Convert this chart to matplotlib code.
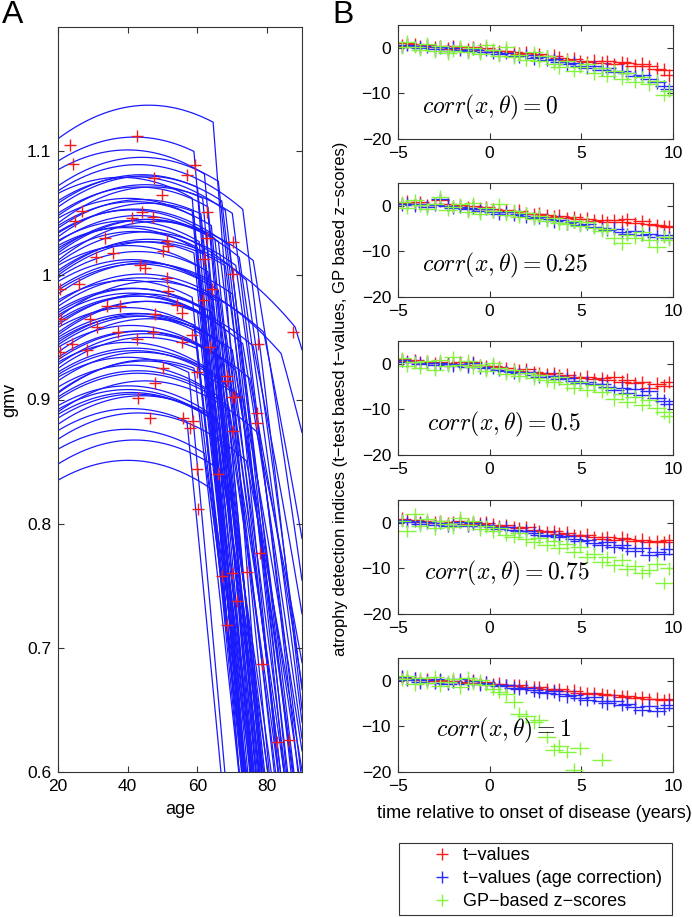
#!/usr/bin/env python
import numpy as np
import matplotlib
matplotlib.use('agg')
import matplotlib.pyplot as plt
from matplotlib.lines import Line2D
from matplotlib.patches import Rectangle

# Panel A: simulated gmv trajectories (one entry per subject)
# value at age 20, age of peak, age of disease onset, decline per year after onset
curve_v20 = [1.110, 1.092, 1.085, 1.072, 1.066, 1.060, 1.055, 1.050, 1.046, 1.042,
             1.038, 1.035, 1.031, 1.027, 1.024, 1.020, 1.016, 1.012, 1.008, 1.004,
             1.000, 0.995, 0.990, 0.985, 0.980, 0.975, 0.970, 0.966, 0.962, 0.958,
             0.954, 0.950, 0.946, 0.942, 0.938, 0.934, 0.930, 0.925, 0.920, 0.915,
             0.910, 0.905, 0.900, 0.895, 0.890, 0.885, 0.880, 0.875, 0.868, 0.860,
             0.848, 0.835, 1.048, 1.040, 1.028, 1.018, 0.998, 0.972, 0.960, 0.948,
             0.932, 0.918, 0.902, 0.888, 0.978, 1.002, 0.964, 0.928,
             1.058, 1.034, 1.010, 0.988, 0.968, 0.944, 0.922, 0.906, 0.892, 1.068,
             1.022, 0.952]
curve_peak = [46, 42, 40, 44, 38, 42, 45, 43, 40, 47,
              44, 41, 46, 43, 39, 45, 42, 48, 40, 44,
              46, 41, 43, 45, 40, 44, 42, 47, 43, 40,
              45, 42, 44, 41, 46, 43, 40, 45, 42, 44,
              41, 46, 43, 40, 45, 42, 44, 41, 43, 40,
              42, 40, 45, 42, 40, 46, 43, 41, 45, 42,
              44, 40, 43, 41, 44, 46, 42, 45,
              44, 42, 45, 43, 41, 44, 42, 45, 40, 43,
              41, 46]
curve_onset = [64.5, 59, 62, 66, 58.5, 68, 60, 63, 59, 70,
               61, 65, 58.5, 72, 62, 66, 60, 76, 63, 59,
               68, 61, 64, 70, 58.5, 66, 62, 79, 60, 65,
               63, 68, 59, 71, 61, 67, 64, 60, 73, 62,
               66, 59, 69, 63, 77, 61, 65, 57, 74, 62,
               67, 64, 61.5, 64, 60.5, 62.5, 60, 61, 64, 62,
               65, 57.5, 62, 64, 84, 88, 73, 75,
               67, 69, 71, 66, 68, 70, 67, 72, 66, 73,
               74, 76]
curve_slope = [0.036, 0.033, 0.031, 0.026, 0.033, 0.024, 0.029, 0.028, 0.030, 0.022,
               0.028, 0.026, 0.030, 0.019, 0.027, 0.023, 0.029, 0.017, 0.026, 0.028,
               0.021, 0.026, 0.025, 0.020, 0.027, 0.022, 0.026, 0.014, 0.026, 0.023,
               0.025, 0.020, 0.025, 0.018, 0.024, 0.020, 0.022, 0.025, 0.015, 0.023,
               0.020, 0.024, 0.017, 0.021, 0.013, 0.023, 0.019, 0.028, 0.014, 0.020,
               0.017, 0.019, 0.031, 0.030, 0.032, 0.028, 0.030, 0.029, 0.026, 0.027,
               0.024, 0.030, 0.025, 0.022, 0.010, 0.009, 0.017, 0.015,
               0.024, 0.022, 0.020, 0.020, 0.019, 0.018, 0.018, 0.016, 0.017, 0.022,
               0.019, 0.014]
curvature = 4e-5   # healthy ageing parabola
accel = 1e-4       # extra acceleration after onset

# observed (age, gmv)
obs_age = [23.4, 24.4, 42.6, 47.5, 49.9, 56.9, 59.3, 26.9, 24.9, 41.1,
           44.0, 47.3, 62.7, 70.3, 62.7, 33.5, 51.3, 51.6, 50.1, 30.9,
           35.8, 43.5, 45.0, 61.9, 70.2, 51.3, 20.6, 25.9, 51.6, 64.2,
           34.0, 37.8, 21.0, 29.2, 31.1, 47.8, 55.5, 54.1, 61.6, 37.3,
           42.6, 47.3, 24.0, 20.6, 28.3, 55.5, 58.4, 63.6, 77.4, 87.5,
           50.1, 59.8, 68.5, 68.5, 47.8, 43.0, 70.0, 70.8, 46.4, 55.9,
           58.8, 57.9, 70.2, 77.0, 77.0, 59.8, 65.9, 60.2, 78.0, 67.0,
           69.9, 74.2, 71.3, 68.5, 78.4, 82.7, 86.3]
obs_gmv = [1.105, 1.090, 1.112, 1.078, 1.065, 1.081, 1.089, 1.052, 1.044, 1.046,
           1.051, 1.047, 1.051, 1.027, 1.030, 1.030, 1.028, 1.024, 1.020, 1.015,
           1.018, 1.008, 1.006, 1.013, 1.001, 0.998, 0.989, 0.993, 0.987, 0.989,
           0.975, 0.975, 0.965, 0.965, 0.958, 0.969, 0.970, 0.976, 0.980, 0.954,
           0.949, 0.954, 0.945, 0.938, 0.940, 0.946, 0.952, 0.942, 0.945, 0.954,
           0.925, 0.922, 0.919, 0.915, 0.913, 0.901, 0.902, 0.902, 0.885, 0.885,
           0.883, 0.877, 0.875, 0.889, 0.881, 0.844, 0.840, 0.812, 0.776, 0.758,
           0.760, 0.761, 0.738, 0.718, 0.687, 0.624, 0.626]

# Panel B: atrophy indices vs time relative to onset (same subjects in all panels)
t_rel = [-4.8, -4.5, -4.1, -3.8, -3.4, -3.0, -2.7, -2.3, -2.0, -1.6, -1.2, -0.9, -0.5, -0.2,
         0.2, 0.5, 0.9, 1.3, 1.6, 2.0, 2.4, 2.7, 3.1, 3.5, 3.8, 4.2, 4.6, 4.9, 5.3, 5.7,
         6.1, 6.4, 6.8, 7.2, 7.5, 7.9, 8.3, 8.7, 9.1, 9.5, 9.8]
corr_labels = ['0', '0.25', '0.5', '0.75', '1']
nan = np.nan

tval_0 = [0.5, 1.0, 0.8, 0.3, 0.6, 0.2, 0.4, -0.2, 0.3, 0.1, -0.3, 0.2, -0.4, 0.0, -0.5, -0.8, -0.6, -1.0, -1.3, -1.1, -1.6,
          -1.4, -1.9, -1.7, -2.2, -2.6, -2.4, -2.9, -3.1, -2.8, -3.3, -3.0, -3.6, -3.2, -3.4, -3.9, -3.5, -4.1, -4.6, -4.8, -6.0]
tage_0 = [0.2, 0.6, 0.4, 0.0, 0.3, -0.3, 0.1, -0.6, 0.0, -0.4, -0.8, -0.2, -0.9, -0.5, -1.0, -1.4, -1.1, -1.7, -1.9, -1.6, -2.3,
          -2.0, -2.7, -2.5, -3.1, -3.6, -3.3, -4.0, -4.4, -4.1, -4.8, -4.5, -5.3, -5.0, -5.6, -6.2, -5.9, -6.8, -7.6, -8.4, -9.1]
zgp_0 = [0.1, 1.3, 0.2, -0.5, 0.9, -0.8, 0.4, -1.2, -0.6, 0.3, -1.0, -0.1, -1.3, 0.6, -0.4, -1.8, 0.2, -2.1, -1.5, -2.6, -1.0,
         -2.9, -1.9, -3.5, -4.3, -2.8, -5.1, -4.2, -3.6, -5.6, -4.5, -6.2, -5.0, -6.8, -5.6, -7.4, -6.4, -8.0, -7.2, -10.3, -9.4]

tval_25 = [0.6, 0.9, 0.4, 0.8, 0.2, 0.5, 1.2, 0.3, -0.1, 0.2, -0.4, 0.0, -0.6, -0.3, -0.8, -1.1, -0.9, -1.3, -1.1, -1.6, -1.9,
           -1.7, -2.1, -2.4, -2.2, -2.7, -2.5, -3.0, -2.8, -3.3, -3.1, -3.6, -3.2, -3.5, -3.0, -3.8, -3.4, -4.0, -4.2, -4.5, -4.6]
tage_25 = [0.3, 0.5, 0.1, 0.4, -0.2, 0.2, 1.5, 0.0, -0.5, -0.2, -0.8, -0.4, -1.1, -0.7, -1.3, -1.7, -1.4, -2.0, -1.8, -2.3, -2.7,
           -2.5, -3.0, -3.4, -3.1, -3.8, -3.5, -4.2, -4.0, -4.6, -4.9, -5.3, -5.0, -5.8, -6.2, -5.6, -6.4, -6.1, -6.8, -6.5, -7.0]
zgp_25 = [0.8, -0.4, 1.2, 0.1, -0.7, 0.5, 2.0, -0.9, -0.2, 0.4, -1.3, 0.6, -1.8, -0.5, -1.2, 0.3, -2.0, -1.1, -2.4, -1.6, -2.9,
          -2.2, -3.3, -2.7, -3.8, -4.0, -3.4, -4.4, -3.6, -4.8, -5.5, -5.0, -7.1, -8.2, -6.4, -7.0, -5.8, -7.6, -9.0, -6.8, -7.4]

tval_50 = [1.0, 0.6, 0.8, 0.3, 0.5, 0.1, 0.4, 0.2, 0.0, 0.3, -0.2, 0.4, -0.3, -0.6, -0.4, -0.8, -1.0, -1.3, -1.5, -1.2, -1.8,
           -2.0, -2.3, -2.1, -2.6, -2.4, -2.9, -3.1, -2.8, -3.4, -3.2, -3.6, -3.0, -3.9, -3.5, -4.2, -4.0, -5.2, -4.4, -4.8, -4.0]
tage_50 = [0.8, 0.4, 0.5, 0.0, 0.2, -0.3, 0.1, -0.1, -0.4, 0.0, -0.6, 0.1, -0.8, -1.0, -0.9, -1.3, -1.6, -1.9, -2.1, -1.8, -2.5,
           -2.8, -3.0, -2.7, -3.3, -3.1, -3.7, -4.2, -3.9, -4.5, -4.4, -5.0, -5.8, -5.2, -6.3, -5.6, -6.8, -6.0, -7.5, -8.1, -8.8]
zgp_50 = [1.2, -0.5, 0.3, -0.9, 0.6, -1.3, 0.8, -0.4, 1.5, -0.2, 0.7, -0.8, -0.3, -1.6, 0.2, -1.0, -2.2, -1.4, -2.7, -2.0, -3.2,
          -2.5, -3.6, -4.1, -3.0, -4.5, -5.3, -4.0, -5.8, -4.7, -6.2, -5.4, -7.8, -6.6, -8.4, -7.2, -9.0, -8.0, -9.8, -10.6, -11.5]

tval_75 = [0.9, 0.5, 0.7, 0.2, 0.4, 0.0, 0.3, -0.2, 0.1, 0.5, -0.3, 0.2, -0.2, 0.0, -0.4, -0.7, -0.5, -0.9, -1.2, -1.0, -1.5,
           -1.8, -2.1, -1.9, -2.4, -2.2, -2.7, -3.0, -2.6, -3.2, -3.5, -3.1, -3.8, -3.3, -3.6, -4.0, -3.7, -4.3, -4.0, -4.2, -3.8]
tage_75 = [0.6, 0.2, 0.4, -0.2, 0.1, -0.5, 0.0, -0.6, -0.3, 0.2, -0.7, -0.1, -0.6, -0.4, -0.9, -1.3, -1.0, -1.6, -1.9, -1.7, -2.2,
           -2.6, -2.9, -2.7, -3.2, -3.0, -3.6, -4.1, -3.8, -4.5, -4.9, -4.3, -5.3, -4.8, -5.6, -6.2, -5.5, -7.0, -6.4, -6.8, -5.7]
zgp_75 = [0.5, -1.8, 1.9, -0.6, 0.8, -1.2, 0.3, -0.3, -1.0, 1.1, -0.5, 0.4, -1.4, -0.8, -1.9, -1.2, -2.6, -3.1, -2.2, -3.6, -4.3,
          -3.3, -4.8, -3.9, -5.5, -4.6, -6.3, -5.2, -7.4, -6.8, -8.6, -7.6, -9.3, -8.1, -10.2, -9.5, -11.0, -10.4, -9.0, -13.2, -10.0]

tval_100 = [0.8, 0.4, 0.6, 0.1, 0.3, -0.1, 0.2, -0.3, 0.0, -0.2, -0.4, 0.1, -0.5, -0.3, -0.7, -0.6, -0.9, -1.1, -1.0, -1.3, -1.5,
            -1.4, -1.8, -2.0, -1.9, -2.3, -2.2, -2.6, -2.8, -2.7, -3.0, -3.2, -3.1, -3.5, -3.4, -3.8, -3.6, -4.1, -3.9, -4.3, -4.0]
tage_100 = [0.9, 0.2, 0.5, -0.3, 0.1, -0.5, 0.3, -0.6, -0.2, 0.4, -0.7, -0.1, -0.8, -0.4, -0.9, -1.2, -1.0, -1.5, -1.8, -1.6, -2.1,
            -2.4, -2.7, -2.3, -3.0, -3.4, -3.1, -3.8, -4.2, -3.6, -4.5, -4.9, -4.4, -5.3, -5.0, -5.8, -6.3, -5.5, -6.6, -6.0, -5.2]
zgp_100 = [0.3, 1.0, -0.8, 0.6, -0.4, 0.9, -1.1, -0.2, 0.5, -1.4, 0.7, -0.6, 0.2, -0.9, -1.7, -2.4, -3.0, -4.6, -7.2, -7.8, -9.1,
           -8.6, -12.3, -15.1, -14.2, -15.6, -19.5, -14.8, nan, nan, -17.3, nan, nan, nan, nan, nan, nan, nan, nan, nan, nan]

tval_all = [tval_0, tval_25, tval_50, tval_75, tval_100]
tage_all = [tage_0, tage_25, tage_50, tage_75, tage_100]
zgp_all = [zgp_0, zgp_25, zgp_50, zgp_75, zgp_100]

# text positions of the corr annotations (data coords)
label_pos = [(-3.7, -13), (-3.7, -13), (-3.4, -13.4), (-3.6, -11), (-2.9, -10.8)]

plt.rcParams['font.family'] = ['Liberation Sans', 'DejaVu Sans']
plt.rcParams['mathtext.fontset'] = 'cm'
plt.rcParams['axes.edgecolor'] = '#333333'

c_red = '#ff1a1a'
c_blue = '#2a2aff'
c_green = '#84f53c'

W, H = 692., 917.
fig = plt.figure(figsize=(W / 100, H / 100), dpi=100)

def px_axes(left, top, right, bottom):
    return fig.add_axes([left / W, 1 - bottom / H, (right - left) / W, (bottom - top) / H])

def style_ticks(ax):
    ax.tick_params(direction='in', top=True, right=True, length=4, width=0.8,
                   labelsize=12.5, color='#333333', pad=5)

# ---- Panel A ----
axA = px_axes(58, 27, 302, 772)
t = np.linspace(20, 90, 701)
for v20, m, o, s in zip(curve_v20, curve_peak, curve_onset, curve_slope):
    peak_val = v20 + curvature * (m - 20) ** 2
    healthy = peak_val - curvature * (t - m) ** 2
    at_onset = peak_val - curvature * (o - m) ** 2
    g = np.where(t < o, healthy, at_onset - s * (t - o) - accel * (t - o) ** 2)
    axA.plot(t, g, color='#1a1aff', lw=0.9, zorder=1)
axA.plot(obs_age, obs_gmv, '+', color='#ee1c1c', ms=9, mew=1.0, zorder=3)
axA.set_xlim(20, 90)
axA.set_ylim(0.6, 1.2)
axA.set_xticks([20, 40, 60, 80])
axA.set_yticks([0.6, 0.7, 0.8, 0.9, 1.0, 1.1])
axA.set_yticklabels(['0.6', '0.7', '0.8', '0.9', '1', '1.1'])
style_ticks(axA)
axA.set_xlabel('age', fontsize=13, labelpad=5)
axA.set_ylabel('gmv', fontsize=13, labelpad=6)
fig.text(2 / W, 1 - 15 / H, 'A', fontsize=23, va='center', ha='left')

# ---- Panel B ----
tops = [25, 183, 341, 500, 658]
for i, top in enumerate(tops):
    ax = px_axes(398, top, 673, top + 114)
    for y, col in [(tval_all[i], c_red), (tage_all[i], c_blue), (zgp_all[i], c_green)]:
        # '+' shaped marks, wider than tall
        ax.errorbar(t_rel, y, xerr=0.5, yerr=1.4, fmt='none', ecolor=col, elinewidth=1.0, capsize=0)
    ax.set_xlim(-5, 10)
    ax.set_ylim(-20, 5)
    ax.set_xticks([-5, 0, 5, 10])
    ax.set_yticks([-20, -10, 0])
    style_ticks(ax)
    x0, y0 = label_pos[i]
    ax.text(x0, y0, r'$corr(x,\theta) = ' + corr_labels[i] + '$', fontsize=17, va='center', ha='left')

fig.text(332 / W, 1 - 15 / H, 'B', fontsize=23, va='center', ha='left')
fig.text(341 / W, 1 - 399 / H, 'atrophy detection indices (t\u2212test baesd t\u2212values, GP based z\u2212scores)',
         rotation=90, fontsize=12, va='center', ha='center')
fig.text(534 / W, 1 - 813 / H, 'time relative to onset of disease (years)', fontsize=13, va='center', ha='center')

# legend: frame drawn separately so the markers sit well inside the box
fig.patches.append(Rectangle((399 / W, 1 - 915 / H), (672 - 399) / W, (915 - 843) / H,
                             transform=fig.transFigure, fill=False, edgecolor='#333333', lw=0.8))
handles = [Line2D([], [], ls='none', marker='+', color=c, ms=8, mew=1.0) for c in (c_red, c_blue, c_green)]
fig.legend(handles, ['t\u2212values', 't\u2212values (age correction)', 'GP\u2212based z\u2212scores'],
           loc='upper left', bbox_to_anchor=(430 / W, 1 - 847 / H), fontsize=13, frameon=False,
           handlelength=1.33, labelspacing=0.33, borderpad=0, handletextpad=0.5, borderaxespad=0)

plt.savefig('out.png', dpi=100)
